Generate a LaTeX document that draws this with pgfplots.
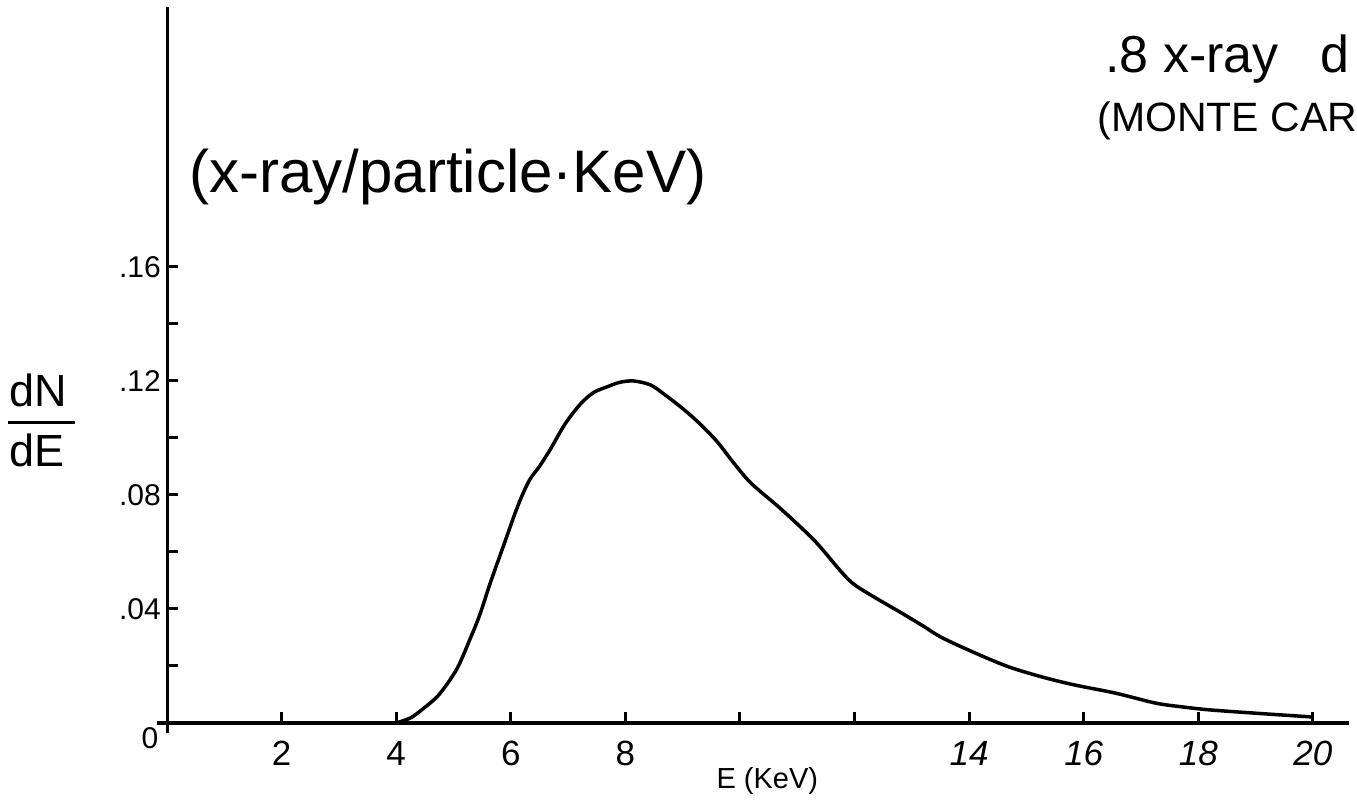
\documentclass[border=0pt]{standalone}
\usepackage{pgfplots}
\pgfplotsset{compat=1.18}
\usepackage{fontspec}
\setmainfont{Liberation Sans}
\newcommand\fs[1]{\fontsize{#1bp}{#1bp}\selectfont}
\pgfplotstableread{
x y
4.00 0.0000
4.25 0.0018
4.47 0.0050
4.75 0.0100
5.06 0.0190
5.30 0.0300
5.46 0.0380
5.64 0.0490
5.87 0.0620
6.12 0.0760
6.32 0.0850
6.50 0.0900
6.69 0.0960
6.95 0.1050
7.22 0.1120
7.45 0.1160
7.69 0.1180
7.90 0.1195
8.14 0.1200
8.44 0.1186
8.70 0.1150
9.02 0.1100
9.32 0.1046
9.61 0.0985
9.90 0.0910
10.20 0.0840
10.72 0.0750
11.30 0.0640
11.77 0.0530
12.00 0.0485
12.40 0.0435
12.82 0.0386
13.20 0.0340
13.52 0.0300
14.10 0.0246
14.69 0.0197
15.30 0.0160
15.85 0.0133
16.55 0.0105
17.25 0.0070
17.70 0.0057
18.20 0.0046
19.10 0.0033
20.00 0.0021
}\spectrum
\begin{document}
\begin{tikzpicture}[x=1bp,y=1bp]
\useasboundingbox (0bp,0bp) rectangle (1357bp,801bp);
\clip (0bp,0bp) rectangle (1357bp,801bp);
\begin{axis}[
  at={(167bp,78bp)}, anchor=south west,
  width=1182bp, height=716bp, scale only axis,
  xmin=0, xmax=20.63, ymin=0, ymax=0.2512,
  axis lines=left, axis line style={-, line width=3bp},
  tick align=inside, major tick length=11bp,
  tick style={line width=3bp, black},
  xtick={2,4,6,8,10,12,14,16,18,20},
  xticklabels={2,4,6,8,,,\textit{14},\textit{16},\textit{18},\textit{20}},
  ytick={0.02,0.04,0.06,0.08,0.10,0.12,0.14,0.16},
  yticklabels={,.04,,.08,,.12,,.16},
  xticklabel style={anchor=center, yshift=-30bp, font=\fs{35}, inner sep=0pt},
  yticklabel style={anchor=east, xshift=-6bp, font=\fs{30}, inner sep=0pt},
  clip=false,
]
\addplot[black, line width=3.5bp, smooth, tension=0.5] table[x=x,y=y] {\spectrum};
\draw[line width=3bp] (axis cs:-0.18,0) -- (axis cs:0,0);
\draw[line width=3bp] (axis cs:0,0) -- (axis cs:0,-0.0035);
\end{axis}
\node[anchor=base, font=\fs{60}] at (448bp,608bp) {(x-ray/particle·KeV)};
\node[anchor=base west, font=\fs{52}] at (1102bp,728bp) {.8 x-ray\hspace{0.8em}d};
\node[anchor=base west, font=\fs{41}] at (1094bp,669bp) {(MONTE CAR};
\node[anchor=base, font=\fs{45}] at (38bp,394bp) {dN};
\draw[line width=3bp] (8bp,378bp) -- (75bp,378bp);
\node[anchor=base, font=\fs{45}] at (37bp,334bp) {dE};
\node[anchor=base west, font=\fs{29}] at (713bp,13bp) {E (KeV)};
\node[font=\fs{30}] at (150bp,63bp) {0};
\end{tikzpicture}
\end{document}
